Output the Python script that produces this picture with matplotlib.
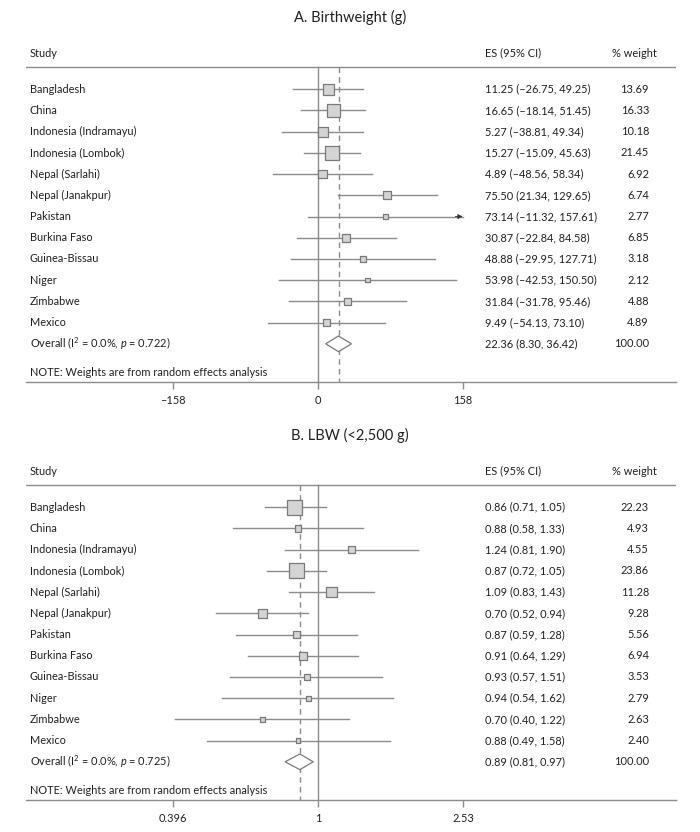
import numpy as np
import matplotlib
matplotlib.use("Agg")
import matplotlib.pyplot as plt
import matplotlib.transforms as mtransforms
from matplotlib.patches import Polygon

plt.rcParams["font.family"] = ["Lato", "DejaVu Sans"]
plt.rcParams["mathtext.fontset"] = "custom"
plt.rcParams["mathtext.rm"] = "Lato"
plt.rcParams["mathtext.it"] = "Lato:italic"

# ── Data ──────────────────────────────────────────────────────
studies = ["Bangladesh", "China", "Indonesia (Indramayu)", "Indonesia (Lombok)",
           "Nepal (Sarlahi)", "Nepal (Janakpur)", "Pakistan", "Burkina Faso",
           "Guinea-Bissau", "Niger", "Zimbabwe", "Mexico"]

# A. Birthweight (g)
bw_es = [11.25, 16.65, 5.27, 15.27, 4.89, 75.50, 73.14, 30.87, 48.88, 53.98, 31.84, 9.49]
bw_lo = [-26.75, -18.14, -38.81, -15.09, -48.56, 21.34, -11.32, -22.84, -29.95, -42.53, -31.78, -54.13]
bw_hi = [49.25, 51.45, 49.34, 45.63, 58.34, 129.65, 157.61, 84.58, 127.71, 150.50, 95.46, 73.10]
bw_wt = [13.69, 16.33, 10.18, 21.45, 6.92, 6.74, 2.77, 6.85, 3.18, 2.12, 4.88, 4.89]
bw_overall = (22.36, 8.30, 36.42)
bw_label = "Overall (I$^2$ = 0.0%, $p$ = 0.722)"
bw_ticks = [-158, 0, 158]
bw_ticklabels = ["–158", "0", "158"]

# B. LBW (<2,500 g)
lbw_es = [0.86, 0.88, 1.24, 0.87, 1.09, 0.70, 0.87, 0.91, 0.93, 0.94, 0.70, 0.88]
lbw_lo = [0.71, 0.58, 0.81, 0.72, 0.83, 0.52, 0.59, 0.64, 0.57, 0.54, 0.40, 0.49]
lbw_hi = [1.05, 1.33, 1.90, 1.05, 1.43, 0.94, 1.28, 1.29, 1.51, 1.62, 1.22, 1.58]
lbw_wt = [22.23, 4.93, 4.55, 23.86, 11.28, 9.28, 5.56, 6.94, 3.53, 2.79, 2.63, 2.40]
lbw_overall = (0.89, 0.81, 0.97)
lbw_label = "Overall (I$^2$ = 0.0%, $p$ = 0.725)"
lbw_ticks = [0.396, 1, 2.53]
lbw_ticklabels = ["0.396", "1", "2.53"]

# ── Style ─────────────────────────────────────────────────────
W, H = 700, 832
LINE = "#8c8c8c"
TXT = "#231f20"
FS = 7.9

fig = plt.figure(figsize=(W / 100, H / 100), dpi=100)


def fmt(v):
    return f"{v:.2f}".replace("-", "–")


def forest(top_px, title, es, lo, hi, wt, overall, overall_label,
           ticks, ticklabels, xlim, ref, log=False, arrow_at=None):
    bottom_px = top_px + 332
    ax = fig.add_axes([26 / W, 1 - bottom_px / H, 650 / W, 332 / H])
    n = len(es)
    ax.set_ylim(13.8, -1.85)
    if log:
        ax.set_xscale("log")
    ax.set_xlim(*xlim)

    for s in ["left", "right", "top"]:
        ax.spines[s].set_visible(False)
    ax.spines["bottom"].set_color(LINE)
    ax.spines["bottom"].set_linewidth(1)
    ax.set_yticks([])
    ax.set_xticks(ticks)
    ax.set_xticklabels(ticklabels)
    ax.xaxis.set_minor_locator(matplotlib.ticker.NullLocator())
    ax.tick_params(axis="x", colors=LINE, labelcolor=TXT, labelsize=FS,
                   length=5, width=1, pad=4)

    # header rule
    ax.axhline(-1.04, color=LINE, lw=1)

    # reference lines
    ax.plot([ref, ref], [-1.04, 13.8], color=LINE, lw=1)
    ax.plot([overall[0], overall[0]], [-1.04, 13.8], color=LINE, lw=1,
            ls=(0, (4, 3)))

    rows = np.arange(n)
    for i in range(n):
        ax.plot([lo[i], hi[i]], [i, i], color=LINE, lw=1)
        if arrow_at is not None and hi[i] >= arrow_at:
            ax.annotate("", xy=(hi[i], i), xytext=(hi[i] - 8, i),
                        arrowprops=dict(arrowstyle="-|>", color="#333333",
                                        lw=0.6, mutation_scale=7,
                                        shrinkA=0, shrinkB=0))
    side_pt = 3.1 * np.sqrt(np.array(wt)) * 0.72
    ax.scatter(es, rows, s=side_pt ** 2, marker="s", facecolor="#d4d4d4",
               edgecolor="#7a7a7a", linewidth=0.9, zorder=3)

    # overall diamond
    e, l, h = overall
    dia = Polygon([(l, n), (e, n - 0.37), (h, n), (e, n + 0.37)], closed=True,
                  facecolor="white", edgecolor="#7a7a7a", lw=0.9, zorder=3)
    ax.add_patch(dia)

    # text columns
    tr = mtransforms.blended_transform_factory(fig.transFigure, ax.transData)
    hy = -1.7
    ax.text(30 / W, hy, "Study", transform=tr, fontsize=FS, color=TXT,
            va="center")
    ax.text(485 / W, hy, "ES (95% CI)", transform=tr, fontsize=FS,
            color=TXT, va="center")
    ax.text(612 / W, hy, "% weight", transform=tr, fontsize=FS,
            color=TXT, va="center")
    for i in range(n):
        ax.text(30 / W, i, studies[i], transform=tr, fontsize=FS, color=TXT,
                va="center")
        ax.text(485 / W, i, f"{fmt(es[i])} ({fmt(lo[i])}, {fmt(hi[i])})",
                transform=tr, fontsize=FS, color=TXT, va="center")
        ax.text(649 / W, i, f"{wt[i]:.2f}", transform=tr, fontsize=FS,
                color=TXT, va="center", ha="right")
    ax.text(30 / W, n, overall_label, transform=tr, fontsize=FS, color=TXT,
            va="center")
    ax.text(485 / W, n, f"{fmt(e)} ({fmt(l)}, {fmt(h)})", transform=tr,
            fontsize=FS, color=TXT, va="center")
    ax.text(649 / W, n, "100.00", transform=tr, fontsize=FS, color=TXT,
            va="center", ha="right")
    ax.text(30 / W, 13.35, "NOTE: Weights are from random effects analysis",
            transform=tr, fontsize=FS, color=TXT, va="center")

    fig.text(0.5, 1 - (top_px - 33) / H, title, ha="center", va="center",
             fontsize=10.5, color=TXT)
    return ax


# ── Panel A ───────────────────────────────────────────────────
forest(50, "A. Birthweight (g)", bw_es, bw_lo, bw_hi, bw_wt, bw_overall,
       bw_label, bw_ticks, bw_ticklabels, xlim=(-318.2, 390.1), ref=0,
       arrow_at=157)

# ── Panel B ───────────────────────────────────────────────────
forest(468, "B. LBW (<2,500 g)", lbw_es, lbw_lo, lbw_hi, lbw_wt, lbw_overall,
       lbw_label, lbw_ticks, lbw_ticklabels,
       xlim=(np.exp(-1.869), np.exp(2.291)), ref=1, log=True)

plt.savefig("out.png", dpi=100)
